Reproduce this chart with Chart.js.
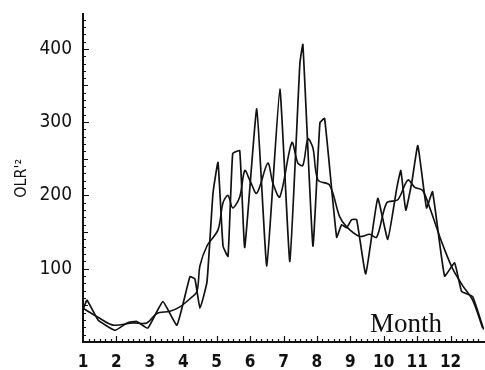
<!DOCTYPE html>
<html>
<head>
<meta charset="utf-8">
<script src="https://cdn.jsdelivr.net/npm/chart.js@4/dist/chart.umd.min.js"></script>
<style>
    html, body { margin: 0; padding: 0; background: #fff; }
    #wrap { width: 485px; height: 370px; }
</style>
</head>
<body>
<div id="wrap"><canvas id="chart-olr"></canvas></div>
<script>
// pentad-ish OLR'^2 variance, x in months (1 = Jan 1st, 13 = end of Dec)
const rawMonths = [1.00, 1.12, 1.45, 1.96, 2.32, 2.61, 2.94, 3.39, 3.81, 4.20, 4.35, 4.50, 4.71, 4.89,
    5.04, 5.19, 5.34, 5.48, 5.69, 5.84, 6.20, 6.50, 6.89, 7.19, 7.49, 7.58, 7.88, 8.09, 8.23, 8.59,
    8.74, 8.89, 9.04, 9.19, 9.46, 9.82, 10.12, 10.39, 10.51, 10.66, 10.84, 11.02, 11.28, 11.46,
    11.82, 12.12, 12.33, 12.66, 12.99]
const rawValues = [44, 57, 30, 16, 26, 28, 19, 55, 23, 89, 86, 46, 82, 203,
    245, 131, 117, 257, 261, 129, 318, 104, 345, 110, 380, 406, 131, 299, 305, 143,
    160, 156, 167, 167, 93, 196, 140, 210, 234, 180, 218, 268, 183, 205,
    90, 108, 69, 62, 17]

const smoothMonths = [1.00, 1.51, 1.90, 2.49, 2.91, 3.21, 3.60, 3.90, 4.20, 4.41, 4.50, 4.71, 5.04,
    5.19, 5.34, 5.48, 5.69, 5.84, 5.99, 6.20, 6.53, 6.68, 6.89, 7.25, 7.43, 7.58, 7.73, 7.88, 8.03,
    8.38, 8.68, 8.89, 9.28, 9.58, 9.79, 10.09, 10.42, 10.72, 10.93, 11.16, 11.37, 11.73, 12.06,
    12.36, 12.66, 12.96]
const smoothValues = [46, 32, 23, 26, 26, 39, 42, 48, 59, 69, 104, 131, 153,
    190, 200, 183, 198, 234, 221, 203, 244, 217, 198, 272, 244, 241, 277, 265, 221,
    214, 171, 157, 144, 147, 143, 190, 194, 221, 211, 207, 184, 137, 100,
    77, 57, 19]

const monthTicks = [1, 2, 3, 4, 5, 6, 7, 8, 9, 10, 11, 12]
const yLabels = [100, 200, 300, 400]

const INK = '#111'

function toPoints(xs, ys) {
    return xs.map((x, i) => ({ x: x, y: ys[i] }))
}

// small inward tick marks like the plotter drew them
const axisTicks = {
    id: 'axisTicks',
    afterDraw(chart) {
        const ctx = chart.ctx
        const xs = chart.scales.x
        const ys = chart.scales.y
        const area = chart.chartArea
        ctx.save()
        ctx.strokeStyle = INK
        ctx.lineWidth = 1.2
        ctx.beginPath()
        for (let v = 10; v <= 440; v += 10) {
            const py = Math.round(ys.getPixelForValue(v)) + 0.5
            const len = v % 100 === 0 ? 6 : (v % 50 === 0 ? 5 : 3)
            ctx.moveTo(area.left, py)
            ctx.lineTo(area.left + len, py)
        }
        for (let k = 1; k < 72; k++) {
            const px = Math.round(xs.getPixelForValue(1 + k / 6)) + 0.5
            const len = k % 6 === 0 ? 6 : 3
            ctx.moveTo(px, area.bottom)
            ctx.lineTo(px, area.bottom - len)
        }
        ctx.stroke()
        ctx.fillStyle = INK
        ctx.font = '27px "Liberation Serif", "DejaVu Serif", serif'
        ctx.textBaseline = 'alphabetic'
        ctx.fillText('Month', area.right - 114, area.bottom - 10)
        ctx.restore()
    },
}

new Chart(document.getElementById('chart-olr'), {
    type: 'line',
    data: {
        datasets: [
            {
                data: toPoints(rawMonths, rawValues),
                borderColor: INK,
                borderWidth: 1.7,
                pointRadius: 0,
                tension: 0.12,
                fill: false,
            },
            {
                data: toPoints(smoothMonths, smoothValues),
                borderColor: INK,
                borderWidth: 1.6,
                pointRadius: 0,
                tension: 0.3,
                fill: false,
            },
        ],
    },
    options: {
        responsive: true,
        maintainAspectRatio: false,
        animation: false,
        layout: { padding: { top: 12, right: 1, left: 0, bottom: 0 } },
        plugins: {
            legend: { display: false },
            tooltip: { enabled: false },
        },
        scales: {
            x: {
                type: 'linear',
                min: 1,
                max: 13,
                grid: { display: false },
                border: { display: true, color: INK, width: 2 },
                afterBuildTicks: (scale) => {
                    scale.ticks = monthTicks.map((v) => ({ value: v }))
                },
                afterFit: (scale) => {
                    scale.height = 28
                },
                ticks: {
                    color: INK,
                    padding: 2,
                    maxRotation: 0,
                    autoSkip: false,
                    font: { family: '"Liberation Sans Narrow", "DejaVu Sans Condensed", "Liberation Sans", sans-serif', size: 17, weight: 'bold' },
                },
            },
            y: {
                min: 0,
                max: 447,
                grid: { display: false },
                border: { display: true, color: INK, width: 2 },
                afterBuildTicks: (scale) => {
                    scale.ticks = yLabels.map((v) => ({ value: v }))
                },
                afterFit: (scale) => {
                    scale.width = 83
                },
                ticks: {
                    color: INK,
                    padding: 3,
                    font: { family: '"Liberation Sans Narrow", "DejaVu Sans Condensed", "Liberation Sans", sans-serif', size: 19 },
                },
                title: {
                    display: true,
                    text: "OLR'²",
                    color: INK,
                    padding: { top: 12, bottom: 10 },
                    font: { family: '"Liberation Sans Narrow", "DejaVu Sans Condensed", sans-serif', size: 16 },
                },
            },
        },
    },
    plugins: [axisTicks],
})
</script>
</body>
</html>
